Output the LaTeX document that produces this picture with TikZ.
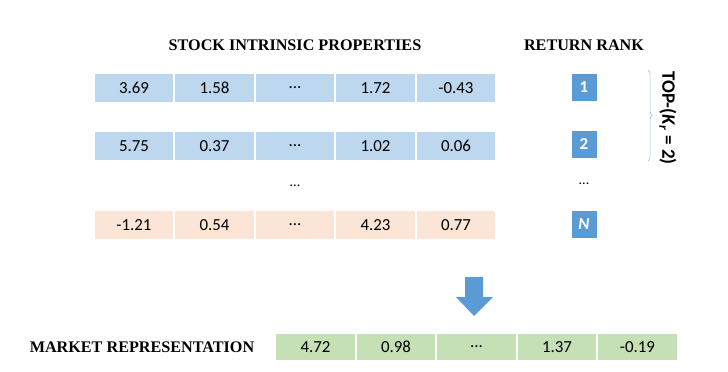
\documentclass[tikz,border=0pt]{standalone}
\usepackage{fontspec}
\setmainfont{Liberation Serif}
\newfontfamily\cellfont{Carlito}
\usetikzlibrary{decorations.pathreplacing}
\definecolor{cellblue}{RGB}{189,215,238}
\definecolor{cellorange}{RGB}{251,229,214}
\definecolor{cellgreen}{RGB}{197,224,180}
\definecolor{rankblue}{RGB}{91,155,213}
\definecolor{bracelight}{RGB}{157,195,230}
\tikzset{
  cell/.style={rectangle, draw=white, line width=0.8pt, minimum width=2cm,
               minimum height=0.75cm, inner sep=0pt,
               font=\cellfont\fontsize{12}{14}\selectfont},
  topcell/.style={cell, fill=cellblue},
  lowcell/.style={cell, fill=cellorange},
  mktcell/.style={cell, fill=cellgreen, minimum height=0.7cm},
  rankbox/.style={rectangle, fill=rankblue, draw=white, line width=0.5pt,
                  minimum width=0.65cm, minimum height=0.7cm, inner sep=0pt,
                  text=white, font=\cellfont\bfseries\fontsize{12}{14}\selectfont},
  heading/.style={font=\bfseries\fontsize{11.5}{13}\selectfont},
  vdots/.style={font=\cellfont\fontsize{10}{12}\selectfont},
}

\begin{document}
\begin{tikzpicture}[x=0.025cm, y=-0.025cm]
  \useasboundingbox (0,0) rectangle (728,371);

  % headings
  \node[heading] (props) at (295,45) {STOCK INTRINSIC PROPERTIES};
  \node[heading] (rank)  at (584,45) {RETURN RANK};

  % first stock
  \node[topcell] (a1) at (134,88)   {3.69};
  \node[topcell] (a2) at (214.5,88) {1.58};
  \node[topcell] (a3) at (295,88)   {...};
  \node[topcell] (a4) at (375.5,88) {1.72};
  \node[topcell] (a5) at (456,88)   {-0.43};

  % second stock
  \node[topcell] (b1) at (134,146)   {5.75};
  \node[topcell] (b2) at (214.5,146) {0.37};
  \node[topcell] (b3) at (295,146)   {...};
  \node[topcell] (b4) at (375.5,146) {1.02};
  \node[topcell] (b5) at (456,146)   {0.06};

  \node[vdots] (mid) at (295,186) {...};

  % last stock
  \node[lowcell] (n1) at (134,225)   {-1.21};
  \node[lowcell] (n2) at (214.5,225) {0.54};
  \node[lowcell] (n3) at (295,225)   {...};
  \node[lowcell] (n4) at (375.5,225) {4.23};
  \node[lowcell] (n5) at (456,225)   {0.77};

  % ranks
  \node[rankbox] (r1) at (584,87)  {1};
  \node[rankbox] (r2) at (584,144) {2};
  \node[vdots]   (rmid) at (584,184) {...};
  \node[rankbox] (rN) at (584,224) {\itshape N};

  \draw[bracelight, line width=0.5pt, decorate,
        decoration={brace, amplitude=3pt}] (648,70) -- (648,161);
  \node[rotate=-90, font=\cellfont\bfseries\fontsize{13.5}{15}\selectfont]
    (topk) at (668,118) {TOP-(\textit{K}\textsubscript{\textit{r}} = 2)};

  % arrow down
  \fill[rankblue] (465,277) -- (483,277) -- (483,297) -- (493,297)
    -- (474,316) -- (456,297) -- (465,297) -- cycle;

  % market row
  \node[heading] (mkt) at (142,347) {MARKET REPRESENTATION};
  \node[mktcell] (m1) at (315.5,347) {4.72};
  \node[mktcell] (m2) at (396,347)   {0.98};
  \node[mktcell] (m3) at (476.5,347) {...};
  \node[mktcell] (m4) at (557,347)   {1.37};
  \node[mktcell] (m5) at (637.5,347) {-0.19};
\end{tikzpicture}
\end{document}
